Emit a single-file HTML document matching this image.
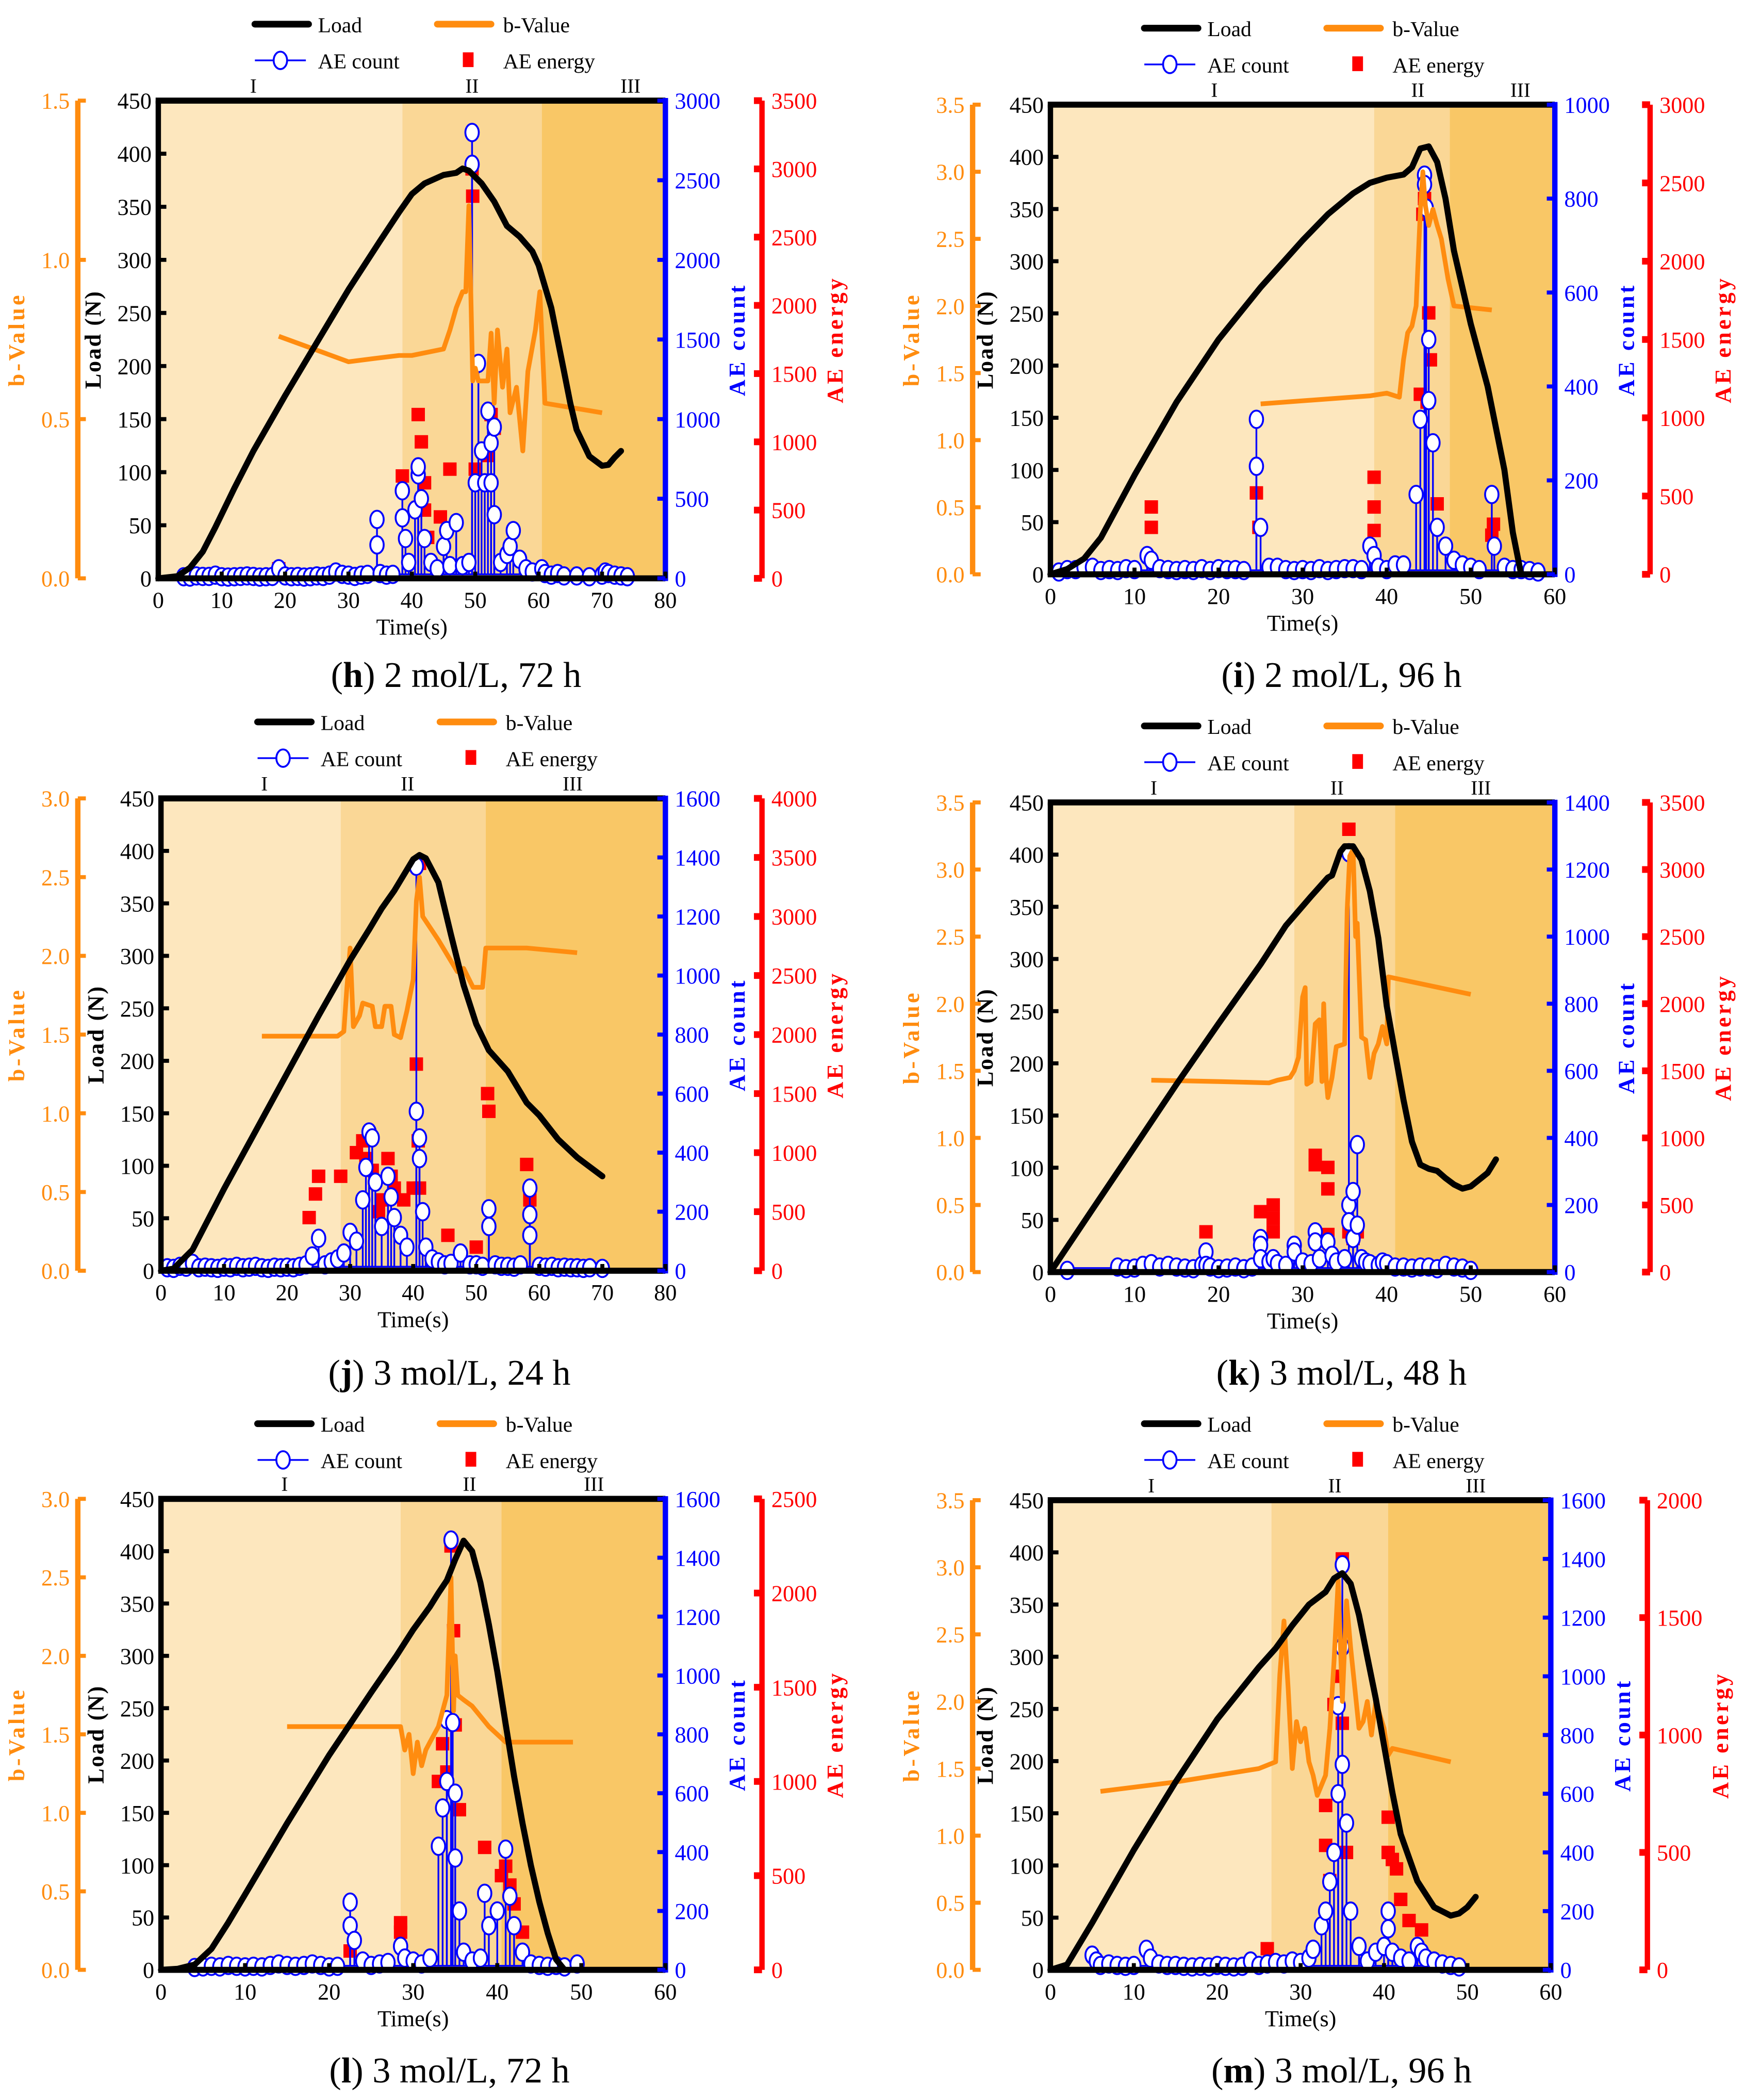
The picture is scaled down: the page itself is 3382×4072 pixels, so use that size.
<!DOCTYPE html>
<html><head><meta charset="utf-8"><style>
html,body{margin:0;padding:0;background:#fff;}
svg{display:block;}
text{font-family:"Liberation Serif",serif;}
</style></head><body>
<svg id="fig" xmlns="http://www.w3.org/2000/svg" width="3382" height="4072" viewBox="0 0 1300 1565" preserveAspectRatio="none"></svg>
<script>
// ---------- DATA (top level) ----------
// Panel h
const h_loadT=[0,3,5,7,9,12,15,20,25,30,35,38,40,42,45,47,48,49,51,53,55,57,59,60,62,64,65,66,68,70,71,72,73];
const h_loadY=[0,2,10,25,48,85,120,172,222,272,318,345,362,372,380,382,386,384,372,355,332,322,308,295,255,195,165,140,115,106,107,114,120];
const h_bT=[19,30,34,38,40,45,46,47,48,48.5,49,49.6,50,50.5,52,52.5,53,53.5,54.3,55,55.5,56.5,57.5,58.3,59.5,60.2,61,70];
const h_bV=[0.76,0.68,0.69,0.70,0.70,0.72,0.78,0.85,0.90,0.90,1.17,0.62,0.66,0.62,0.62,0.77,0.55,0.78,0.60,0.72,0.52,0.60,0.40,0.65,0.78,0.90,0.55,0.52];
const h_cntT=[4,5,6,7,8,9,10,11,12,13,14,15,16,17,18,19,20,21,22,23,24,25,26,27,28,29,30,31,32,33,34.5,34.5,35,36,37,38.5,38.5,39,39.5,40.5,41,41,41.5,42,43,44,45,45.5,46,47,48,49,49.5,49.5,50,50.5,51,51.5,52,52.5,52.5,53,53,54,55,55.5,56,57,58,59,60.5,61,62,63,64,66,68,70,70.5,71,72,73,74];
const h_cntV=[10,8,15,12,12,20,10,8,10,12,15,12,8,10,12,60,15,10,12,8,10,15,12,20,40,25,20,12,20,25,370,210,30,20,25,550,380,250,100,430,650,700,500,250,100,60,200,300,80,350,80,100,2600,2800,600,1350,800,600,1050,850,600,950,400,100,150,200,300,120,60,40,60,30,20,30,15,15,10,20,40,30,20,15,10];
const h_enT=[19,38.5,41,41.5,42,42,42.5,44.5,46,49.5,49.6,50,52,52.5,53];
const h_enV=[70,750,1200,1000,700,500,300,450,800,3000,2800,800,900,1200,1100];
// Panel i
const i_loadT=[0,2,4,6,10,15,20,25,30,33,36,38,40,42,43,44,45,46,47,48,50,52,54,55,56];
const i_loadY=[0,5,15,35,95,165,225,275,320,345,365,375,380,383,390,408,410,395,360,310,240,180,100,40,0];
const i_bT=[25,38,40,41.5,42,42.5,43,43.5,44,44.3,44.6,45,45.5,46,46.5,47.3,48,52.5];
const i_bV=[1.27,1.33,1.35,1.32,1.60,1.80,1.85,2.0,2.7,3.0,2.75,2.6,2.72,2.6,2.5,2.2,2.0,1.97];
const i_cntT=[1,2,3,4,5,6,7,8,9,10,11.5,12,13,14,15,16,17,18,19,20,21,22,23,24.5,24.5,25,26,27,28,29,30,31,32,33,34,35,36,37,38,38.5,39,40,41,42,43.5,44,44.5,44.5,44.7,45,45,45.5,46,47,48,49,50,51,52.5,52.8,54,55,56,57,58];
const i_cntV=[5,10,10,15,15,8,10,8,12,10,40,30,12,10,8,10,8,12,8,12,10,10,8,330,230,100,15,15,10,8,10,8,12,8,10,12,12,10,60,40,15,10,20,20,170,330,850,830,780,500,370,280,100,60,30,20,15,10,170,60,15,10,10,8,5];
const i_enT=[12,12,24.5,24.8,38.5,38.5,38.5,44,44.5,44.3,45,45.2,44.8,46,52.7,52.5];
const i_enV=[430,300,520,300,620,430,280,1150,2400,2300,1670,1370,1100,450,320,250];
// Panel j
const j_loadT=[0,2,5,10,15,20,25,30,33,35,37,38,40,41,42,44,46,48,50,52,55,58,60,63,66,70];
const j_loadY=[0,2,20,78,133,188,243,296,325,345,362,372,392,396,393,370,320,272,235,210,190,160,148,125,108,90];
const j_bT=[16,28,29,29.5,30,30.5,31.5,32,33.5,34,35,35.5,36.5,37,38,39,40,40.5,41,41.5,44,47,48,49.5,51,51.5,55,58,66];
const j_bV=[1.49,1.49,1.52,1.8,2.05,1.55,1.62,1.70,1.68,1.55,1.55,1.68,1.68,1.50,1.48,1.65,1.85,2.35,2.5,2.25,2.10,1.9,1.92,1.80,1.80,2.05,2.05,2.05,2.02];
const j_cntT=[1,2,3,4,5,6,7,8,9,10,11,12,13,14,15,16,17,18,19,20,21,22,23,24,25,26,27,28,29,30,31,32,32.5,33,33.5,34,35,36,36.5,37,38,39,40.5,40.5,41,41,41.5,42,43,44,45,46,47.5,49,50,51,52,52,53,54,55,56,57,58.5,58.5,58.5,60,61,62,63,64,65,66,67,68,70];
const j_cntV=[10,8,15,12,25,10,12,10,8,12,10,15,10,12,15,10,8,12,10,12,10,15,20,50,110,20,30,40,60,130,100,240,350,470,450,300,150,320,250,180,120,80,1370,540,450,380,200,80,40,30,20,25,60,20,20,15,210,150,20,15,15,12,20,280,190,120,15,12,15,10,12,10,10,8,10,8];
const j_enT=[23.5,24.5,25,28.5,31,32,32.5,33.5,34.5,35,36,36.5,37,38.5,40,40.5,41,40.8,41,45.5,50,51.8,52,58,58.5];
const j_enV=[450,650,800,800,1000,1100,950,850,500,600,950,800,700,600,700,1750,3450,1100,700,300,200,1500,1350,900,600];
// Panel k
const k_loadT=[0,5,10,15,20,25,28,31,33,33.5,34.5,35,36,37,38,39,40,41,42,43,44,45,46,47,48,49,50,52,53];
const k_loadY=[0,60,120,180,238,295,332,360,378,380,403,408,408,395,365,320,255,210,165,125,103,99,97,90,84,80,82,95,108];
const k_bT=[12,20,26,27,28.5,29,29.5,30,30.3,30.5,31,31.5,32,32.3,32.5,32.8,33,33.5,34,35,35.3,35.6,36,36.3,36.5,37,37.5,38,38.5,39,39.5,40,40.2,50];
const k_bV=[1.43,1.42,1.41,1.43,1.45,1.5,1.60,2.05,2.12,1.40,1.42,1.85,1.88,1.42,2.0,1.45,1.30,1.45,1.68,1.70,2.7,3.10,3.15,2.50,2.6,1.75,1.73,1.45,1.63,1.70,1.83,1.70,2.2,2.07];
const k_cntT=[2,8,9,10,11,12,13,14,15,16,17,18,18.5,18.5,19,20,21,22,23,24,25,25,25,26,26.5,27,28,29,29,30,31,31.5,31.5,32,33,33.5,34,35,35.5,35.5,35.5,36,36,36.5,36.5,37,37.5,38,39,39.5,40,41,42,43,44,45,46,47,48,49,50];
const k_cntV=[5,15,10,12,20,25,15,20,15,12,10,20,60,20,15,10,12,15,10,15,100,80,40,30,40,25,20,80,60,30,25,120,90,40,90,50,30,40,1250,200,150,240,100,380,140,40,30,25,20,30,25,15,15,12,15,15,10,20,15,12,5];
const k_enT=[18.5,25,26.5,26.5,26.5,31.5,31.5,33,33,33,35.5,35.5,36,36.5];
const k_enV=[300,450,500,400,300,870,800,780,620,280,3300,300,250,300];
// Panel l
const l_loadT=[0,2,4,6,8,10,15,20,25,28,30,32,33,34,35,36,37,38,39,40,41,42,43,44,45,46,47,48];
const l_loadY=[0,1,5,20,45,72,140,205,265,300,325,347,360,372,392,410,400,370,330,285,235,185,140,100,65,35,10,0];
const l_bT=[15,28.5,29,29.5,30,30.5,31,31.5,32,33,34,34.5,34.8,35,35.3,36,37,39,41,49];
const l_bV=[1.55,1.55,1.40,1.50,1.25,1.45,1.30,1.40,1.45,1.55,1.75,2.5,1.65,2.0,1.75,1.72,1.68,1.55,1.45,1.45];
const l_cntT=[4,5,6,7,8,9,10,11,12,13,14,15,16,17,18,19,20,21,22.5,22.5,23,24,25,26,27,28.5,29,30,31,32,33,33.5,34,34,34.5,34.7,35,35,35.5,36,37,38,38.5,39,40,41,41.5,42,43,44,45,46,47,48,49.5];
const l_cntV=[8,10,12,10,15,12,10,12,10,15,20,15,12,15,20,15,10,12,230,150,100,30,15,20,25,80,40,30,20,40,420,550,850,640,1460,840,600,380,200,60,30,40,260,150,200,410,250,150,60,20,15,12,15,10,20];
const l_enT=[22.5,28.5,28.5,33,33.5,34,34.5,34.8,35,35.5,38.5,40.5,41,41.5,42,43];
const l_enV=[100,200,250,1000,1200,1050,2250,1800,1300,850,650,500,550,450,350,200];
// Panel m
const m_loadT=[0,2,5,10,15,20,25,27,29,31,33,34,35,36,37,38,39,40,41,42,44,46,48,49,50,51];
const m_loadY=[0,5,45,115,180,240,290,308,330,350,362,375,380,370,340,300,260,215,170,130,85,60,52,54,60,70];
const m_bT=[6,15,25,27,27.5,28,28.5,29,29.5,30,30.5,31,31.5,32,33,33.5,34,34.5,35,35.5,36,36.5,37,37.5,38,38.5,39,39.5,40,40.5,41,48];
const m_bV=[1.33,1.40,1.50,1.55,2.2,2.6,2.1,1.50,1.85,1.7,1.8,1.55,1.45,1.30,1.45,1.80,2.3,2.90,2.00,2.75,2.40,2.10,1.80,1.85,2.00,1.75,2.00,1.90,1.80,1.60,1.65,1.55];
const m_cntT=[5,5.5,6,7,8,9,10,11.5,12,13,14,15,16,17,18,19,20,21,22,23,24,25,26,27,28,29,30,31,31.5,32.5,33,33.5,34,34.5,34.5,35,35,35,35.5,36,37,38,39,40,40.5,40.5,41,42,43,44,44.5,45,46,47,48,49];
const m_cntV=[50,30,15,20,15,12,15,70,40,20,15,15,12,10,12,10,15,12,10,12,30,15,20,25,20,30,25,40,70,150,200,300,400,600,900,1380,1100,700,500,200,80,30,60,80,200,140,60,40,30,80,60,40,30,20,15,10];
const m_enT=[26,33,33,33.5,34,34.5,35,35,35.5,40.5,40.5,41,41.5,42,43,44.5];
const m_enV=[90,700,530,380,1130,1250,1750,1050,500,650,500,470,430,300,210,170];

// Tick label arrays
const loadTicks=[0,50,100,150,200,250,300,350,400,450];
const h_bTicks=["0.0","0.5","1.0","1.5"];
const b35Ticks=["0.0","0.5","1.0","1.5","2.0","2.5","3.0","3.5"];
const b30Ticks=["0.0","0.5","1.0","1.5","2.0","2.5","3.0"];
const h_cntTicks=[0,500,1000,1500,2000,2500,3000];
const i_cntTicks=[0,200,400,600,800,1000];
const c1600Ticks=[0,200,400,600,800,1000,1200,1400,1600];
const k_cntTicks=[0,200,400,600,800,1000,1200,1400];
const h_enTicks=[0,500,1000,1500,2000,2500,3000,3500];
const i_enTicks=[0,500,1000,1500,2000,2500,3000];
const j_enTicks=[0,500,1000,1500,2000,2500,3000,3500,4000];
const l_enTicks=[0,500,1000,1500,2000,2500];
const m_enTicks=[0,500,1000,1500,2000];
const x80Ticks=[0,10,20,30,40,50,60,70,80];
const x60Ticks=[0,10,20,30,40,50,60];

// ---------- RENDER ----------
const NS="http://www.w3.org/2000/svg";
const svg=document.getElementById('fig');
function mk(tag,attrs,parent,txt){const e=document.createElementNS(NS,tag);for(const k in attrs)e.setAttribute(k,attrs[k]);if(txt!==undefined)e.textContent=txt;(parent||svg).appendChild(e);return e;}

const panels=[
 {id:'h',x0:118,x1:496,y0:75,y1:431,bx:58,ex:568,xmax:80,bmax:1.5,cmax:3000,emax:3500,ph:[38.5,60.5],lab:[15,49.5,74.5],ly:18,lx:190,cap:['h',' 2 mol/L, 72 h'],capx:340,capy:512,
  load:[h_loadT,h_loadY],b:[h_bT,h_bV],cnt:[h_cntT,h_cntV],en:[h_enT,h_enV],bt:h_bTicks,ct:h_cntTicks,et:h_enTicks,xt:x80Ticks},
 {id:'i',x0:783,x1:1159,y0:78,y1:428,bx:725,ex:1230,xmax:60,bmax:3.5,cmax:1000,emax:3000,ph:[38.5,47.5],lab:[19.5,43.7,55.9],ly:21,lx:853,cap:['i',' 2 mol/L, 96 h'],capx:1000,capy:512,
  load:[i_loadT,i_loadY],b:[i_bT,i_bV],cnt:[i_cntT,i_cntV],en:[i_enT,i_enV],bt:b35Ticks,ct:i_cntTicks,et:i_enTicks,xt:x60Ticks},
 {id:'j',x0:120,x1:496,y0:595,y1:947,bx:58,ex:568,xmax:80,bmax:3.0,cmax:1600,emax:4000,ph:[28.5,51.5],lab:[16.4,39.1,65.3],ly:538,lx:192,cap:['j',' 3 mol/L, 24 h'],capx:335,capy:1032,
  load:[j_loadT,j_loadY],b:[j_bT,j_bV],cnt:[j_cntT,j_cntV],en:[j_enT,j_enV],bt:b30Ticks,ct:c1600Ticks,et:j_enTicks,xt:x80Ticks},
 {id:'k',x0:783,x1:1159,y0:598,y1:948,bx:725,ex:1230,xmax:60,bmax:3.5,cmax:1400,emax:3500,ph:[29,41],lab:[12.3,34.1,51.2],ly:541,lx:853,cap:['k',' 3 mol/L, 48 h'],capx:1000,capy:1032,
  load:[k_loadT,k_loadY],b:[k_bT,k_bV],cnt:[k_cntT,k_cntV],en:[k_enT,k_enV],bt:b35Ticks,ct:k_cntTicks,et:h_enTicks,xt:x60Ticks},
 {id:'l',x0:120,x1:496,y0:1117,y1:1468,bx:58,ex:568,xmax:60,bmax:3.0,cmax:1600,emax:2500,ph:[28.5,40.5],lab:[14.7,36.7,51.5],ly:1061,lx:192,cap:['l',' 3 mol/L, 72 h'],capx:335,capy:1552,
  load:[l_loadT,l_loadY],b:[l_bT,l_bV],cnt:[l_cntT,l_cntV],en:[l_enT,l_enV],bt:b30Ticks,ct:c1600Ticks,et:l_enTicks,xt:x60Ticks},
 {id:'m',x0:783,x1:1156,y0:1118,y1:1468,bx:725,ex:1228,xmax:60,bmax:3.5,cmax:1600,emax:2000,ph:[26.5,40.5],lab:[12.1,34.1,51],ly:1061,lx:853,cap:['m',' 3 mol/L, 96 h'],capx:1000,capy:1552,
  load:[m_loadT,m_loadY],b:[m_bT,m_bV],cnt:[m_cntT,m_cntV],en:[m_enT,m_enV],bt:b35Ticks,ct:c1600Ticks,et:m_enTicks,xt:x60Ticks}
];

panels.forEach(p=>{
 const g=mk('g',{});
 
 
 const X=t=>p.x0+(t/p.xmax)*(p.x1-p.x0);
 const YL=v=>p.y1-(v/450)*(p.y1-p.y0);
 const YB=v=>p.y1-(v/p.bmax)*(p.y1-p.y0);
 const YC=v=>p.y1-(v/p.cmax)*(p.y1-p.y0);
 const YE=v=>p.y1-(v/p.emax)*(p.y1-p.y0);
 const cols=['#fde7be','#fad796','#f9c766'];
 const bounds=[0,p.ph[0],p.ph[1],p.xmax];
 for(let i=0;i<3;i++){
  const r=mk('rect',{x:X(bounds[i]),y:p.y0,width:X(bounds[i+1])-X(bounds[i]),height:p.y1-p.y0,fill:cols[i]},g);
  
  
  const lt=mk('text',{x:X(p.lab[i]),y:p.y0-6,'text-anchor':'middle','font-size':15},g,['I','II','III'][i]);
  
  
 }
 // energy squares
 const eg=mk('g',{fill:'#ff0000'},g);
 
 
 p.en[0].forEach((t,i)=>{
  const s=mk('rect',{x:X(t)-5,y:YE(p.en[1][i])-5,width:10,height:10},eg);
  
  
 });
 // count: baseline line + stems + circles
 const cg=mk('g',{},g);
 
 
 const ts=p.cnt[0];
 const tmin=Math.min(...ts), tmax=Math.max(...ts);
 const bl0=mk('line',{x1:X(tmin),y1:YC(0)-3,x2:X(tmax),y2:YC(0)-3,stroke:'#0000ff','stroke-width':1.3},cg);
 
 
 ts.forEach((t,i)=>{
  const st=mk('line',{x1:X(t),y1:YC(0)-3,x2:X(t),y2:YC(p.cnt[1][i]),stroke:'#0000ff','stroke-width':1.3},cg);
  
  
 });
 ts.forEach((t,i)=>{
  const c=mk('ellipse',{cx:X(t),cy:YC(p.cnt[1][i]),rx:5,ry:6.5,fill:'#fff',stroke:'#0000ff','stroke-width':1.4},cg);
  
  
 });
 // b-value
 const bp=p.b[0].map((t,i)=>X(t).toFixed(1)+','+YB(p.b[1][i]).toFixed(1)).join(' ');
 const bl=mk('polyline',{points:bp,fill:'none',stroke:'#ff8c0f','stroke-width':3.5,'stroke-linejoin':'round'},g);
 
 
 // load
 const lp=p.load[0].map((t,i)=>X(t).toFixed(1)+','+YL(p.load[1][i]).toFixed(1)).join(' ');
 const ll=mk('polyline',{points:lp,fill:'none',stroke:'#000','stroke-width':4.5,'stroke-linejoin':'round','stroke-linecap':'round'},g);
 
 
 // frame
 mk('line',{x1:p.x0-2,y1:p.y0,x2:p.x1,y2:p.y0,stroke:'#000','stroke-width':4.5},g);
 mk('line',{x1:p.x0-2,y1:p.y1,x2:p.x1,y2:p.y1,stroke:'#000','stroke-width':4.5},g);
 const la=mk('line',{x1:p.x0,y1:p.y0,x2:p.x0,y2:p.y1+2,stroke:'#000','stroke-width':4},g);
 
 
 const ca=mk('line',{x1:p.x1,y1:p.y0-2,x2:p.x1,y2:p.y1+2,stroke:'#0000ff','stroke-width':4},g);
 
 
 loadTicks.forEach(v=>{
  mk('line',{x1:p.x0,y1:YL(v),x2:p.x0+6,y2:YL(v),stroke:'#000','stroke-width':3},g);
  const t=mk('text',{x:p.x0-5,y:YL(v)+6,'text-anchor':'end','font-size':17},g,String(v));
  
  
 });
 p.xt.forEach(v=>{
  mk('line',{x1:X(v),y1:p.y1,x2:X(v),y2:p.y1-5,stroke:'#000','stroke-width':3},g);
  const t=mk('text',{x:X(v),y:p.y1+22,'text-anchor':'middle','font-size':17},g,String(v));
  
  
 });
 const xt=mk('text',{x:(p.x0+p.x1)/2,y:p.y1+42,'text-anchor':'middle','font-size':17},g,'Time(s)');
 
 
 const lyT=mk('text',{x:0,y:0,'text-anchor':'middle','font-size':17,'font-weight':'bold','letter-spacing':1,transform:`translate(${p.x0-43},${(p.y0+p.y1)/2}) rotate(-90)`},g,'Load (N)');
 
 
 p.ct.forEach(v=>{
  mk('line',{x1:p.x1,y1:YC(v),x2:p.x1-6,y2:YC(v),stroke:'#0000ff','stroke-width':3},g);
  const t=mk('text',{x:p.x1+7,y:YC(v)+6,'font-size':17,fill:'#0000ff'},g,String(v));
  
  
 });
 const cT=mk('text',{x:0,y:0,'text-anchor':'middle','font-size':17,'font-weight':'bold','letter-spacing':2,fill:'#0000ff',transform:`translate(${p.x1+59},${(p.y0+p.y1)/2}) rotate(-90)`},g,'AE count');
 
 
 const ba=mk('line',{x1:p.bx,y1:p.y0,x2:p.bx,y2:p.y1,stroke:'#ff8c0f','stroke-width':4},g);
 
 
 p.bt.forEach(s=>{
  const v=parseFloat(s);
  mk('line',{x1:p.bx,y1:YB(v),x2:p.bx+6,y2:YB(v),stroke:'#ff8c0f','stroke-width':3},g);
  const t=mk('text',{x:p.bx-6,y:YB(v)+6,'text-anchor':'end','font-size':17,fill:'#ff8c0f'},g,s);
  
  
 });
 const bT=mk('text',{x:0,y:0,'text-anchor':'middle','font-size':17,'font-weight':'bold','letter-spacing':2,fill:'#ff8c0f',transform:`translate(${p.bx-40},${(p.y0+p.y1)/2}) rotate(-90)`},g,'b-Value');
 
 
 const ea=mk('line',{x1:p.ex,y1:p.y0,x2:p.ex,y2:p.y1,stroke:'#ff0000','stroke-width':4},g);
 
 
 p.et.forEach(v=>{
  mk('line',{x1:p.ex-6,y1:YE(v),x2:p.ex,y2:YE(v),stroke:'#ff0000','stroke-width':5},g);
  const t=mk('text',{x:p.ex+7,y:YE(v)+6,'font-size':17,fill:'#ff0000'},g,String(v));
  
  
 });
 const eT=mk('text',{x:0,y:0,'text-anchor':'middle','font-size':17,'font-weight':'bold','letter-spacing':2,fill:'#ff0000',transform:`translate(${p.ex+60},${(p.y0+p.y1)/2}) rotate(-90)`},g,'AE energy');
 
 
 const lg=mk('g',{},g);
 
 
 mk('line',{x1:p.lx,y1:p.ly,x2:p.lx+40,y2:p.ly,stroke:'#000','stroke-width':5,'stroke-linecap':'round'},lg);
 mk('text',{x:p.lx+47,y:p.ly+6,'font-size':16},lg,'Load');
 mk('line',{x1:p.lx+136,y1:p.ly,x2:p.lx+176,y2:p.ly,stroke:'#ff8c0f','stroke-width':5,'stroke-linecap':'round'},lg);
 mk('text',{x:p.lx+185,y:p.ly+6,'font-size':16},lg,'b-Value');
 mk('line',{x1:p.lx,y1:p.ly+27,x2:p.lx+38,y2:p.ly+27,stroke:'#0000ff','stroke-width':1.3},lg);
 mk('ellipse',{cx:p.lx+19,cy:p.ly+27,rx:5,ry:6.5,fill:'#fff',stroke:'#0000ff','stroke-width':1.4},lg);
 mk('text',{x:p.lx+47,y:p.ly+33,'font-size':16},lg,'AE count');
 mk('rect',{x:p.lx+155,y:p.ly+21,width:8,height:11,fill:'#ff0000'},lg);
 mk('text',{x:p.lx+185,y:p.ly+33,'font-size':16},lg,'AE energy');
 const cap=mk('text',{x:p.capx,y:p.capy,'text-anchor':'middle','font-size':27},g);
 
 
 mk('tspan',{},cap,'(');
 mk('tspan',{'font-weight':'bold'},cap,p.cap[0]);
 mk('tspan',{},cap,')'+p.cap[1]);
});
</script>
</body></html>
